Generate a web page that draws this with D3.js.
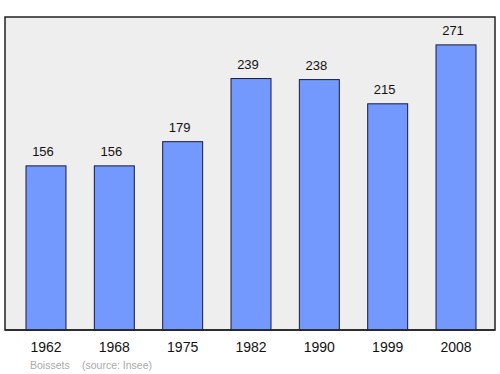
<!DOCTYPE html>
<html>
<head>
<meta charset="utf-8">
<script src="https://cdn.jsdelivr.net/npm/d3@7"></script>
<style>
  body { margin: 0; background: #fff; }
  text { font-family: "Liberation Sans", Arial, sans-serif; }
</style>
</head>
<body>
<div id="chartContainer"></div>
<script>
var years = ["1962", "1968", "1975", "1982", "1990", "1999", "2008"];
var population = [156, 156, 179, 239, 238, 215, 271];
var placeName = "Boissets";
var sourceText = "(source: Insee)";

var width = 500, height = 374;
var frame = { left: 5, top: 17, right: 495, bottom: 330 };

var svg = d3.select("#chartContainer")
    .append("svg")
    .attr("width", width)
    .attr("height", height);

// background frame
svg.append("rect")
    .attr("x", frame.left)
    .attr("y", frame.top)
    .attr("width", frame.right - frame.left)
    .attr("height", frame.bottom - frame.top)
    .attr("fill", "#eeeeee")
    .attr("stroke", "#222")
    .attr("stroke-width", 1.5);

var x = d3.scaleBand()
    .domain(years)
    .range([26, 476])
    .paddingInner(0.415)
    .paddingOuter(0);

var y = d3.scaleLinear()
    .domain([0, 297.5])
    .range([frame.bottom, frame.top]);

var data = years.map(function (yr, i) { return { year: yr, value: population[i] }; });

svg.selectAll("rect.bar")
    .data(data)
    .enter()
    .append("rect")
    .attr("class", "bar")
    .attr("x", function (d) { return x(d.year); })
    .attr("y", function (d) { return y(d.value); })
    .attr("width", x.bandwidth())
    .attr("height", function (d) { return frame.bottom - y(d.value); })
    .attr("fill", "#7399ff")
    .attr("stroke", "#1a1a3a")
    .attr("stroke-width", 1);

// value labels (sit a little left of bar centre, as in the original)
svg.selectAll("text.val")
    .data(data)
    .enter()
    .append("text")
    .attr("class", "val")
    .attr("x", function (d) { return x(d.year) + x.bandwidth() / 2 - 3; })
    .attr("y", function (d) { return y(d.value) - 10; })
    .attr("text-anchor", "middle")
    .attr("font-size", 13)
    .attr("fill", "#111")
    .text(function (d) { return d.value; });

// bottom line redraw over bars
svg.append("line")
    .attr("x1", frame.left).attr("x2", frame.right)
    .attr("y1", frame.bottom).attr("y2", frame.bottom)
    .attr("stroke", "#222").attr("stroke-width", 1.5);

// year labels
svg.selectAll("text.year")
    .data(years)
    .enter()
    .append("text")
    .attr("class", "year")
    .attr("x", function (d) { return x(d) + x.bandwidth() / 2; })
    .attr("y", 352)
    .attr("text-anchor", "middle")
    .attr("font-size", 14)
    .attr("fill", "#111")
    .text(function (d) { return d; });

svg.append("text")
    .attr("x", 30)
    .attr("y", 369)
    .attr("font-size", 10.5)
    .attr("fill", "#aaa")
    .text(placeName);

svg.append("text")
    .attr("x", 82)
    .attr("y", 369)
    .attr("font-size", 10.5)
    .attr("fill", "#aaa")
    .text(sourceText);
</script>
</body>
</html>
